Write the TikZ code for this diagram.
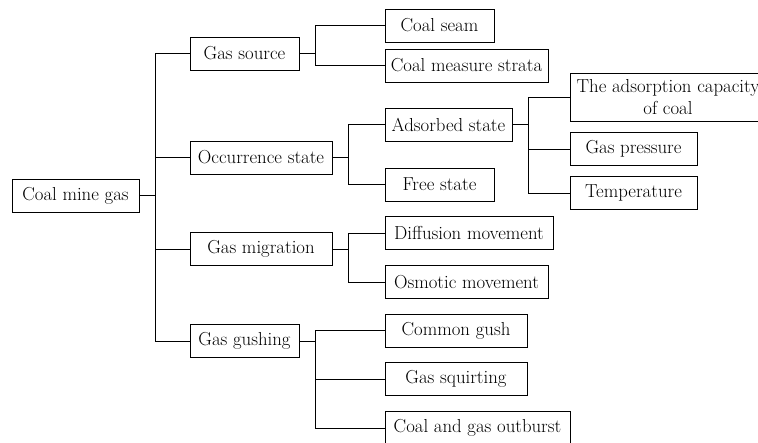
\documentclass[tikz,border=0pt]{standalone}
\usetikzlibrary{positioning}

\tikzset{
  item/.style={draw=black, fill=white, line width=0.8pt, inner sep=0pt,
    minimum height=33pt, font=\fontsize{18.8}{21}\selectfont},
  branch/.style={draw=black, line width=0.8pt}
}

\begin{document}
\begin{tikzpicture}[x=1pt, y=-1pt]
\clip (0,0) rectangle (758,443);
\fill[white] (0,0) rectangle (758,443);
% root
\node[item, minimum width=127pt] (gas) at (75.5,195.5) {Coal mine gas};
% first level
\node[item, minimum width=109pt] (source) at (244.5,53.5) {Gas source};
\node[item, minimum width=142pt] (occur) at (261,157.5) {Occurrence state};
\node[item, minimum width=142pt] (migr) at (261,249) {Gas migration};
\node[item, minimum width=109pt] (gush) at (244.5,341) {Gas gushing};
% second level
\node[item, minimum width=109pt] (seam) at (439.5,25.5) {Coal seam};
\node[item, minimum width=163pt] (strata) at (466.5,65.5) {Coal measure strata};
\node[item, minimum width=127pt] (adsorb) at (448.5,124.5) {Adsorbed state};
\node[item, minimum width=109pt] (free) at (439.5,184.5) {Free state};
\node[item, minimum width=168pt] (diffus) at (469,233) {Diffusion movement};
\node[item, minimum width=163pt] (osmot) at (466.5,282) {Osmotic movement};
\node[item, minimum width=142pt] (common) at (456,330.5) {Common gush};
\node[item, minimum width=142pt] (squirt) at (456,379) {Gas squirting};
\node[item, minimum width=185pt] (burst) at (477.5,428) {Coal and gas outburst};
% third level
\node[item, minimum width=196pt, minimum height=48pt, align=center,
  font=\fontsize{18.8}{22}\selectfont] (capac) at (668,97) {The adsorption capacity\\of coal};
\node[item, minimum width=127pt] (press) at (633.5,149) {Gas pressure};
\node[item, minimum width=127pt] (temp) at (633.5,193) {Temperature};
% connectors
\foreach \c in {source,occur,migr,gush}
  \draw[branch] (gas.east) -- ++(16,0) |- (\c.west);
\foreach \c in {seam,strata}
  \draw[branch] (source.east) -- ++(16,0) |- (\c.west);
\foreach \c in {adsorb,free}
  \draw[branch] (occur.east) -- ++(16,0) |- (\c.west);
\foreach \c in {diffus,osmot}
  \draw[branch] (migr.east) -- ++(16,0) |- (\c.west);
\foreach \c in {common,squirt,burst}
  \draw[branch] (gush.east) -- ++(16,0) |- (\c.west);
\foreach \c in {capac,press,temp}
  \draw[branch] (adsorb.east) -- ++(16,0) |- (\c.west);
\end{tikzpicture}
\end{document}
